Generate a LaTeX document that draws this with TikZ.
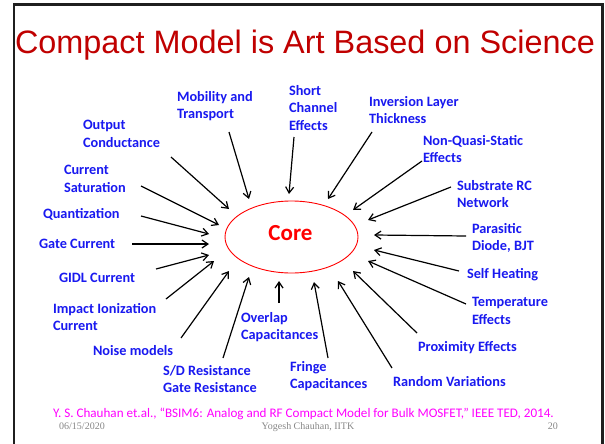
\documentclass[tikz,border=0pt]{standalone}
\usepackage{fontspec}
\setmainfont{Carlito}
\newfontfamily\titlefont{Liberation Sans}
\newfontfamily\timesfont{Liberation Serif}
\usetikzlibrary{arrows.meta}

\definecolor{titlered}{RGB}{192,0,0}
\definecolor{corered}{RGB}{255,0,0}
\definecolor{lblue}{RGB}{25,25,240}
\definecolor{citemag}{RGB}{255,0,255}
\definecolor{footgray}{RGB}{135,135,135}

\newcommand\lstrut{\rule{0pt}{11.5pt}}

\begin{document}
\begin{tikzpicture}[x=1pt,y=-1pt,
  lbl/.style={anchor=north west, inner sep=0pt, outer sep=0pt, align=left,
    yshift=10.5pt, text=lblue,
    font=\bfseries\fontsize{14.3}{17.5}\selectfont,
    execute at begin node=\lstrut},
  ml/.style={yshift=-2.8pt},
  arr/.style={line width=1.2pt, -{Straight Barb[length=6pt,width=8pt,line width=1.2pt]}},
  foot/.style={inner sep=0pt, anchor=base, text=footgray,
    font=\timesfont\fontsize{10}{12}\selectfont}]

\useasboundingbox (0,0) rectangle (605,444);
\fill[white] (0,0) rectangle (605,444);

% slide frame
\draw[line width=2.6pt, color=black!88] (14,444) -- (14,4.8) -- (602.7,4.8) -- (602.7,444);

% title
\node[anchor=base west, inner sep=0pt, text=titlered,
      font=\titlefont\fontsize{32.4}{38}\selectfont] (title) at (14.8,54)
  {Compact Model is Art Based on Science};

% central ellipse
\draw[corered, line width=0.9pt] (291.5,237) ellipse [x radius=66.5, y radius=36];
\node[anchor=base, inner sep=0pt, text=corered,
      font=\bfseries\fontsize{23}{26}\selectfont] (core) at (290.5,240) {Core};

% surrounding labels
\node[lbl,ml] (mob)  at (177,99)  {Mobility and\\Transport};
\node[lbl,ml] (sce)  at (289,93)  {Short\\Channel\\Effects};
\node[lbl,ml] (inv)  at (369,104) {Inversion Layer\\Thickness};
\node[lbl,ml] (nqs)  at (423,143) {Non-Quasi-Static\\Effects};
\node[lbl,ml] (sub)  at (457,188) {Substrate RC\\Network};
\node[lbl,ml] (par)  at (472,231) {Parasitic\\Diode, BJT};
\node[lbl]    (shd)  at (467,277) {Self Heating};
\node[lbl,ml] (tmp)  at (472,305) {Temperature\\Effects};
\node[lbl]    (prx)  at (418,350) {Proximity Effects};
\node[lbl]    (rnd)  at (393,385) {Random Variations};
\node[lbl,ml] (frc)  at (290,369) {Fringe\\Capacitances};
\node[lbl,ml] (ovc)  at (241,320) {Overlap\\Capacitances};
\node[lbl,ml] (res)  at (163,373) {S/D Resistance\\Gate Resistance};
\node[lbl]    (noi)  at (93,354)  {Noise models};
\node[lbl,ml] (imp)  at (53,311)  {Impact Ionization\\Current};
\node[lbl]    (gidl) at (59,281)  {GIDL Current};
\node[lbl]    (gate) at (39,247)  {Gate Current};
\node[lbl]    (qnt)  at (43,217)  {Quantization};
\node[lbl,ml] (sat)  at (64,173)  {Current\\Saturation};
\node[lbl,ml] (out)  at (83,128)  {Output\\Conductance};

% arrow tails and heads
\coordinate (t1)  at (171,157); \coordinate (h1)  at (229,209);
\coordinate (t2)  at (229,132); \coordinate (h2)  at (249,199);
\coordinate (t3)  at (294,137); \coordinate (h3)  at (289,194);
\coordinate (t4)  at (141,186); \coordinate (h4)  at (219,225);
\coordinate (t5)  at (141,216); \coordinate (h5)  at (209,234);
\coordinate (t6)  at (132,244); \coordinate (h6)  at (209,244);
\coordinate (t7)  at (156,269); \coordinate (h7)  at (209,255);
\coordinate (t8)  at (166,299); \coordinate (h8)  at (214,261);
\coordinate (t9)  at (181,338); \coordinate (h9)  at (229,271);
\coordinate (t10) at (223,358); \coordinate (h10) at (249,277);
\coordinate (t11) at (279,303); \coordinate (h11) at (279,281);
\coordinate (t12) at (328,358); \coordinate (h12) at (314,282);
\coordinate (t13) at (392,368); \coordinate (h13) at (338,281);
\coordinate (t14) at (417,333); \coordinate (h14) at (353,271);
\coordinate (t15) at (466,304); \coordinate (h15) at (368,261);
\coordinate (t16) at (459,271); \coordinate (h16) at (374,250);
\coordinate (t17) at (466,236); \coordinate (h17) at (374,235);
\coordinate (t18) at (451,187); \coordinate (h18) at (368,220);
\coordinate (t19) at (422,161); \coordinate (h19) at (353,210);
\coordinate (t20) at (372,132); \coordinate (h20) at (328,199);

\foreach \i in {1,...,20} {\draw[arr] (t\i) -- (h\i);}

% citation and footer
\node[anchor=base west, inner sep=0pt, text=citemag,
      font=\fontsize{13.1}{15}\selectfont] (cite) at (53,417.5)
  {Y. S. Chauhan et.al., “BSIM6: Analog and RF Compact Model for Bulk MOSFET,” IEEE TED, 2014.};
\node[foot, anchor=base west] (date) at (59,429.5) {06/15/2020};
\node[foot] (author) at (308,429.5) {Yogesh Chauhan, IITK};
\node[foot, anchor=base east] (page) at (558,429.5) {20};
\end{tikzpicture}
\end{document}
